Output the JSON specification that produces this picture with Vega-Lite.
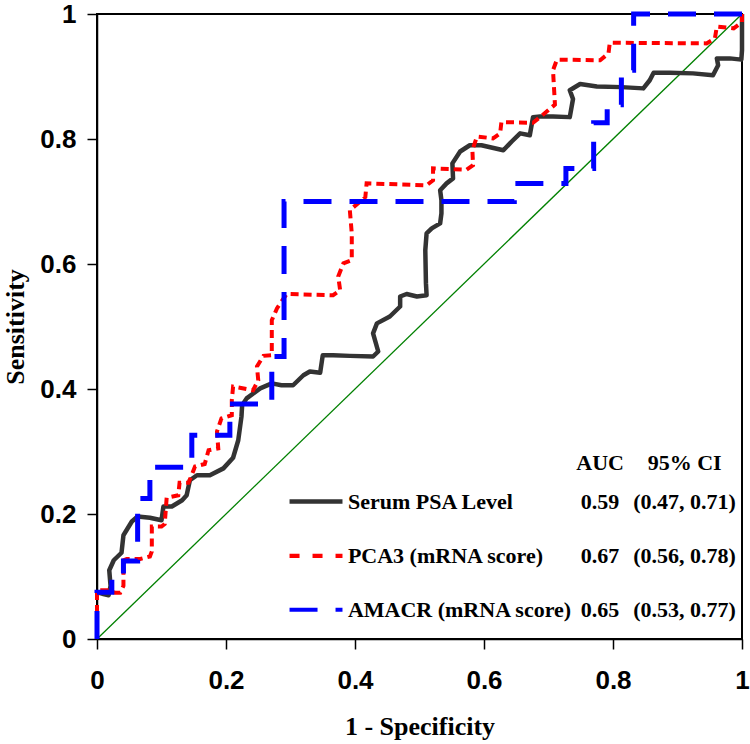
{
  "$schema": "https://vega.github.io/schema/vega-lite/v6.json",
  "width": 645,
  "height": 625,
  "autosize": {"type": "none"},
  "padding": {"left": 97, "top": 14, "right": 8, "bottom": 105},
  "background": "white",
  "config": {
    "view": {"stroke": "#000000", "strokeWidth": 2},
    "axis": {
      "grid": false,
      "domainColor": "#000000",
      "domainWidth": 1.5,
      "tickColor": "#000000",
      "tickWidth": 1.5,
      "tickSize": 10,
      "labelFont": "Liberation Sans",
      "labelFontWeight": "bold",
      "labelFontSize": 26,
      "labelColor": "#000000",
      "labelFlush": false,
      "labelOverlap": false,
      "titleFont": "Liberation Serif",
      "titleFontWeight": "bold",
      "titleFontSize": 26,
      "titleColor": "#000000"
    }
  },
  "datasets": {
    "diag": [{"fpr": 0, "tpr": 0}, {"fpr": 1, "tpr": 1}],
    "psa": [
      {"fpr": 0, "tpr": 0.075}, {"fpr": 0.01, "tpr": 0.072}, {"fpr": 0.018, "tpr": 0.07}, {"fpr": 0.021, "tpr": 0.085},
      {"fpr": 0.019, "tpr": 0.11}, {"fpr": 0.026, "tpr": 0.126}, {"fpr": 0.038, "tpr": 0.138}, {"fpr": 0.041, "tpr": 0.166},
      {"fpr": 0.054, "tpr": 0.188}, {"fpr": 0.063, "tpr": 0.196}, {"fpr": 0.082, "tpr": 0.194}, {"fpr": 0.1, "tpr": 0.19},
      {"fpr": 0.103, "tpr": 0.212}, {"fpr": 0.116, "tpr": 0.212}, {"fpr": 0.132, "tpr": 0.222}, {"fpr": 0.139, "tpr": 0.23},
      {"fpr": 0.144, "tpr": 0.254}, {"fpr": 0.155, "tpr": 0.262}, {"fpr": 0.175, "tpr": 0.262}, {"fpr": 0.196, "tpr": 0.273},
      {"fpr": 0.211, "tpr": 0.29}, {"fpr": 0.219, "tpr": 0.318}, {"fpr": 0.224, "tpr": 0.356}, {"fpr": 0.225, "tpr": 0.374},
      {"fpr": 0.232, "tpr": 0.385}, {"fpr": 0.253, "tpr": 0.401}, {"fpr": 0.271, "tpr": 0.409}, {"fpr": 0.286, "tpr": 0.406},
      {"fpr": 0.304, "tpr": 0.406}, {"fpr": 0.32, "tpr": 0.422}, {"fpr": 0.33, "tpr": 0.428}, {"fpr": 0.346, "tpr": 0.426},
      {"fpr": 0.35, "tpr": 0.454}, {"fpr": 0.366, "tpr": 0.454}, {"fpr": 0.392, "tpr": 0.453}, {"fpr": 0.428, "tpr": 0.452},
      {"fpr": 0.436, "tpr": 0.46}, {"fpr": 0.428, "tpr": 0.489}, {"fpr": 0.434, "tpr": 0.505}, {"fpr": 0.454, "tpr": 0.516},
      {"fpr": 0.47, "tpr": 0.532}, {"fpr": 0.47, "tpr": 0.548}, {"fpr": 0.48, "tpr": 0.552}, {"fpr": 0.496, "tpr": 0.548},
      {"fpr": 0.511, "tpr": 0.55}, {"fpr": 0.51, "tpr": 0.569}, {"fpr": 0.509, "tpr": 0.622}, {"fpr": 0.511, "tpr": 0.649},
      {"fpr": 0.519, "tpr": 0.657}, {"fpr": 0.532, "tpr": 0.665}, {"fpr": 0.534, "tpr": 0.681}, {"fpr": 0.534, "tpr": 0.702},
      {"fpr": 0.532, "tpr": 0.718}, {"fpr": 0.542, "tpr": 0.729}, {"fpr": 0.552, "tpr": 0.737}, {"fpr": 0.551, "tpr": 0.761},
      {"fpr": 0.563, "tpr": 0.78}, {"fpr": 0.578, "tpr": 0.79}, {"fpr": 0.596, "tpr": 0.79}, {"fpr": 0.63, "tpr": 0.782},
      {"fpr": 0.643, "tpr": 0.796}, {"fpr": 0.656, "tpr": 0.809}, {"fpr": 0.671, "tpr": 0.806}, {"fpr": 0.676, "tpr": 0.835},
      {"fpr": 0.687, "tpr": 0.836}, {"fpr": 0.707, "tpr": 0.836}, {"fpr": 0.733, "tpr": 0.835}, {"fpr": 0.738, "tpr": 0.864},
      {"fpr": 0.733, "tpr": 0.878}, {"fpr": 0.749, "tpr": 0.888}, {"fpr": 0.775, "tpr": 0.884}, {"fpr": 0.813, "tpr": 0.883},
      {"fpr": 0.847, "tpr": 0.881}, {"fpr": 0.857, "tpr": 0.894}, {"fpr": 0.863, "tpr": 0.906}, {"fpr": 0.888, "tpr": 0.906},
      {"fpr": 0.924, "tpr": 0.905}, {"fpr": 0.955, "tpr": 0.902}, {"fpr": 0.963, "tpr": 0.918}, {"fpr": 0.961, "tpr": 0.929},
      {"fpr": 0.981, "tpr": 0.929}, {"fpr": 0.999, "tpr": 0.927}, {"fpr": 1, "tpr": 0.942}, {"fpr": 1, "tpr": 1}
    ],
    "pca3": [
      {"fpr": 0, "tpr": 0}, {"fpr": 0, "tpr": 0.078}, {"fpr": 0.016, "tpr": 0.078}, {"fpr": 0.028, "tpr": 0.074},
      {"fpr": 0.036, "tpr": 0.074}, {"fpr": 0.041, "tpr": 0.085}, {"fpr": 0.041, "tpr": 0.126}, {"fpr": 0.046, "tpr": 0.128},
      {"fpr": 0.067, "tpr": 0.128}, {"fpr": 0.082, "tpr": 0.132}, {"fpr": 0.085, "tpr": 0.14}, {"fpr": 0.085, "tpr": 0.18},
      {"fpr": 0.1, "tpr": 0.18}, {"fpr": 0.105, "tpr": 0.184}, {"fpr": 0.108, "tpr": 0.226}, {"fpr": 0.126, "tpr": 0.23},
      {"fpr": 0.128, "tpr": 0.25}, {"fpr": 0.142, "tpr": 0.25}, {"fpr": 0.152, "tpr": 0.276}, {"fpr": 0.167, "tpr": 0.28},
      {"fpr": 0.173, "tpr": 0.302}, {"fpr": 0.188, "tpr": 0.305}, {"fpr": 0.186, "tpr": 0.332}, {"fpr": 0.193, "tpr": 0.353},
      {"fpr": 0.209, "tpr": 0.358}, {"fpr": 0.209, "tpr": 0.382}, {"fpr": 0.211, "tpr": 0.404}, {"fpr": 0.242, "tpr": 0.398},
      {"fpr": 0.25, "tpr": 0.414}, {"fpr": 0.248, "tpr": 0.436}, {"fpr": 0.258, "tpr": 0.453}, {"fpr": 0.271, "tpr": 0.454},
      {"fpr": 0.271, "tpr": 0.51}, {"fpr": 0.279, "tpr": 0.529}, {"fpr": 0.294, "tpr": 0.552}, {"fpr": 0.366, "tpr": 0.55},
      {"fpr": 0.377, "tpr": 0.558}, {"fpr": 0.374, "tpr": 0.58}, {"fpr": 0.382, "tpr": 0.601}, {"fpr": 0.395, "tpr": 0.606},
      {"fpr": 0.395, "tpr": 0.649}, {"fpr": 0.392, "tpr": 0.686}, {"fpr": 0.416, "tpr": 0.707}, {"fpr": 0.418, "tpr": 0.729},
      {"fpr": 0.449, "tpr": 0.728}, {"fpr": 0.511, "tpr": 0.726}, {"fpr": 0.521, "tpr": 0.734}, {"fpr": 0.521, "tpr": 0.753},
      {"fpr": 0.573, "tpr": 0.751}, {"fpr": 0.583, "tpr": 0.758}, {"fpr": 0.582, "tpr": 0.782}, {"fpr": 0.589, "tpr": 0.804},
      {"fpr": 0.614, "tpr": 0.801}, {"fpr": 0.625, "tpr": 0.809}, {"fpr": 0.627, "tpr": 0.827}, {"fpr": 0.676, "tpr": 0.826},
      {"fpr": 0.687, "tpr": 0.835}, {"fpr": 0.71, "tpr": 0.855}, {"fpr": 0.707, "tpr": 0.91}, {"fpr": 0.713, "tpr": 0.927},
      {"fpr": 0.78, "tpr": 0.926}, {"fpr": 0.793, "tpr": 0.937}, {"fpr": 0.795, "tpr": 0.954}, {"fpr": 0.945, "tpr": 0.953},
      {"fpr": 0.958, "tpr": 0.961}, {"fpr": 0.961, "tpr": 0.98}, {"fpr": 0.987, "tpr": 0.977}, {"fpr": 1, "tpr": 0.987},
      {"fpr": 1, "tpr": 1}
    ],
    "amacr": [
      {"fpr": 0, "tpr": 0}, {"fpr": 0, "tpr": 0.075}, {"fpr": 0.023, "tpr": 0.075}, {"fpr": 0.023, "tpr": 0.1},
      {"fpr": 0.041, "tpr": 0.1}, {"fpr": 0.041, "tpr": 0.125}, {"fpr": 0.063, "tpr": 0.125}, {"fpr": 0.063, "tpr": 0.225},
      {"fpr": 0.082, "tpr": 0.225}, {"fpr": 0.082, "tpr": 0.275}, {"fpr": 0.147, "tpr": 0.275}, {"fpr": 0.147, "tpr": 0.326},
      {"fpr": 0.206, "tpr": 0.326}, {"fpr": 0.206, "tpr": 0.376}, {"fpr": 0.271, "tpr": 0.376}, {"fpr": 0.271, "tpr": 0.452},
      {"fpr": 0.29, "tpr": 0.452}, {"fpr": 0.29, "tpr": 0.7}, {"fpr": 0.647, "tpr": 0.7}, {"fpr": 0.647, "tpr": 0.729},
      {"fpr": 0.727, "tpr": 0.729}, {"fpr": 0.727, "tpr": 0.753}, {"fpr": 0.77, "tpr": 0.753}, {"fpr": 0.77, "tpr": 0.826},
      {"fpr": 0.791, "tpr": 0.826}, {"fpr": 0.791, "tpr": 0.855}, {"fpr": 0.813, "tpr": 0.855}, {"fpr": 0.813, "tpr": 0.91},
      {"fpr": 0.832, "tpr": 0.91}, {"fpr": 0.832, "tpr": 1}, {"fpr": 1, "tpr": 1}
    ],
    "leg": [
      {"s": "header", "name": "", "auc": "AUC", "ci": "95% CI", "ly": 0.2824},
      {"s": "PSA", "name": "Serum PSA Level", "auc": "0.59", "ci": "(0.47, 0.71)", "ly": 0.22},
      {"s": "PCA3", "name": "PCA3 (mRNA score)", "auc": "0.67", "ci": "(0.56, 0.78)", "ly": 0.133},
      {"s": "AMACR", "name": "AMACR (mRNA score)", "auc": "0.65", "ci": "(0.53, 0.77)", "ly": 0.047}
    ]
  },
  "layer": [
    {
      "data": {"name": "diag"},
      "mark": {"type": "line", "color": "#008000", "strokeWidth": 1.3},
      "encoding": {
        "x": {"field": "fpr", "type": "quantitative", "title": "1 - Specificity",
              "scale": {"domain": [0, 1], "nice": false},
              "axis": {"values": [0, 0.2, 0.4, 0.6, 0.8, 1], "format": "~g", "labelPadding": 18, "titleY": 95, "titleBaseline": "alphabetic"}},
        "y": {"field": "tpr", "type": "quantitative", "title": "Sensitivity",
              "scale": {"domain": [0, 1], "nice": false},
              "axis": {"values": [0, 0.2, 0.4, 0.6, 0.8, 1], "format": "~g", "labelPadding": 11, "titleX": -69, "titleY": 312.5, "titleAngle": 270, "titleAlign": "center", "titleBaseline": "bottom"}},
        "order": {"value": null}
      }
    },
    {
      "data": {"name": "psa"},
      "mark": {"type": "line", "color": "#333333", "strokeWidth": 4.5, "strokeJoin": "round"},
      "encoding": {
        "x": {"field": "fpr", "type": "quantitative", "title": "1 - Specificity",
              "axis": {"values": [0, 0.2, 0.4, 0.6, 0.8, 1], "format": "~g", "labelPadding": 18, "titleY": 95, "titleBaseline": "alphabetic"}},
        "y": {"field": "tpr", "type": "quantitative", "title": "Sensitivity",
              "axis": {"values": [0, 0.2, 0.4, 0.6, 0.8, 1], "format": "~g", "labelPadding": 11, "titleX": -69, "titleY": 312.5, "titleAngle": 270, "titleAlign": "center", "titleBaseline": "bottom"}},
        "order": {"value": null}
      }
    },
    {
      "data": {"name": "pca3"},
      "mark": {"type": "line", "color": "#ff0000", "strokeWidth": 4, "strokeDash": [8, 5]},
      "encoding": {
        "x": {"field": "fpr", "type": "quantitative", "title": "1 - Specificity",
              "axis": {"values": [0, 0.2, 0.4, 0.6, 0.8, 1], "format": "~g", "labelPadding": 18, "titleY": 95, "titleBaseline": "alphabetic"}},
        "y": {"field": "tpr", "type": "quantitative", "title": "Sensitivity",
              "axis": {"values": [0, 0.2, 0.4, 0.6, 0.8, 1], "format": "~g", "labelPadding": 11, "titleX": -69, "titleY": 312.5, "titleAngle": 270, "titleAlign": "center", "titleBaseline": "bottom"}},
        "order": {"value": null}
      }
    },
    {
      "data": {"name": "amacr"},
      "mark": {"type": "line", "color": "#0000ff", "strokeWidth": 5, "strokeDash": [28, 18]},
      "encoding": {
        "x": {"field": "fpr", "type": "quantitative", "title": "1 - Specificity",
              "axis": {"values": [0, 0.2, 0.4, 0.6, 0.8, 1], "format": "~g", "labelPadding": 18, "titleY": 95, "titleBaseline": "alphabetic"}},
        "y": {"field": "tpr", "type": "quantitative", "title": "Sensitivity",
              "axis": {"values": [0, 0.2, 0.4, 0.6, 0.8, 1], "format": "~g", "labelPadding": 11, "titleX": -69, "titleY": 312.5, "titleAngle": 270, "titleAlign": "center", "titleBaseline": "bottom"}},
        "order": {"value": null}
      }
    },
    {
      "data": {"name": "leg"},
      "transform": [{"filter": "datum.s !== 'header'"}],
      "mark": {"type": "rule"},
      "encoding": {
        "x": {"datum": 0.2985, "type": "quantitative", "title": "1 - Specificity",
              "axis": {"values": [0, 0.2, 0.4, 0.6, 0.8, 1], "format": "~g", "labelPadding": 18, "titleY": 95, "titleBaseline": "alphabetic"}},
        "x2": {"datum": 0.3806},
        "y": {"field": "ly", "type": "quantitative", "title": "Sensitivity",
              "axis": {"values": [0, 0.2, 0.4, 0.6, 0.8, 1], "format": "~g", "labelPadding": 11, "titleX": -69, "titleY": 312.5, "titleAngle": 270, "titleAlign": "center", "titleBaseline": "bottom"}},
        "color": {"field": "s", "type": "nominal", "legend": null,
                  "scale": {"domain": ["PSA", "PCA3", "AMACR"], "range": ["#333333", "#ff0000", "#0000ff"]}},
        "strokeDash": {"field": "s", "type": "nominal", "legend": null,
                  "scale": {"domain": ["PSA", "PCA3", "AMACR"], "range": [[1, 0], [10, 13], [28, 18]]}},
        "strokeWidth": {"field": "s", "type": "nominal", "legend": null,
                  "scale": {"domain": ["PSA", "PCA3", "AMACR"], "range": [4.5, 4, 5]}}
      }
    },
    {
      "data": {"name": "leg"},
      "mark": {"type": "text", "align": "left", "baseline": "middle", "font": "Liberation Serif", "fontWeight": "bold", "fontSize": 22, "color": "#000000"},
      "encoding": {
        "x": {"datum": 0.389, "type": "quantitative", "title": "1 - Specificity",
              "axis": {"values": [0, 0.2, 0.4, 0.6, 0.8, 1], "format": "~g", "labelPadding": 18, "titleY": 95, "titleBaseline": "alphabetic"}},
        "y": {"field": "ly", "type": "quantitative", "title": "Sensitivity",
              "axis": {"values": [0, 0.2, 0.4, 0.6, 0.8, 1], "format": "~g", "labelPadding": 11, "titleX": -69, "titleY": 312.5, "titleAngle": 270, "titleAlign": "center", "titleBaseline": "bottom"}},
        "text": {"field": "name"}
      }
    },
    {
      "data": {"name": "leg"},
      "mark": {"type": "text", "align": "center", "baseline": "middle", "font": "Liberation Serif", "fontWeight": "bold", "fontSize": 22, "color": "#000000"},
      "encoding": {
        "x": {"datum": 0.78, "type": "quantitative", "title": "1 - Specificity",
              "axis": {"values": [0, 0.2, 0.4, 0.6, 0.8, 1], "format": "~g", "labelPadding": 18, "titleY": 95, "titleBaseline": "alphabetic"}},
        "y": {"field": "ly", "type": "quantitative", "title": "Sensitivity",
              "axis": {"values": [0, 0.2, 0.4, 0.6, 0.8, 1], "format": "~g", "labelPadding": 11, "titleX": -69, "titleY": 312.5, "titleAngle": 270, "titleAlign": "center", "titleBaseline": "bottom"}},
        "text": {"field": "auc"}
      }
    },
    {
      "data": {"name": "leg"},
      "mark": {"type": "text", "align": "center", "baseline": "middle", "font": "Liberation Serif", "fontWeight": "bold", "fontSize": 22, "color": "#000000"},
      "encoding": {
        "x": {"datum": 0.911, "type": "quantitative", "title": "1 - Specificity",
              "axis": {"values": [0, 0.2, 0.4, 0.6, 0.8, 1], "format": "~g", "labelPadding": 18, "titleY": 95, "titleBaseline": "alphabetic"}},
        "y": {"field": "ly", "type": "quantitative", "title": "Sensitivity",
              "axis": {"values": [0, 0.2, 0.4, 0.6, 0.8, 1], "format": "~g", "labelPadding": 11, "titleX": -69, "titleY": 312.5, "titleAngle": 270, "titleAlign": "center", "titleBaseline": "bottom"}},
        "text": {"field": "ci"}
      }
    }
  ]
}
